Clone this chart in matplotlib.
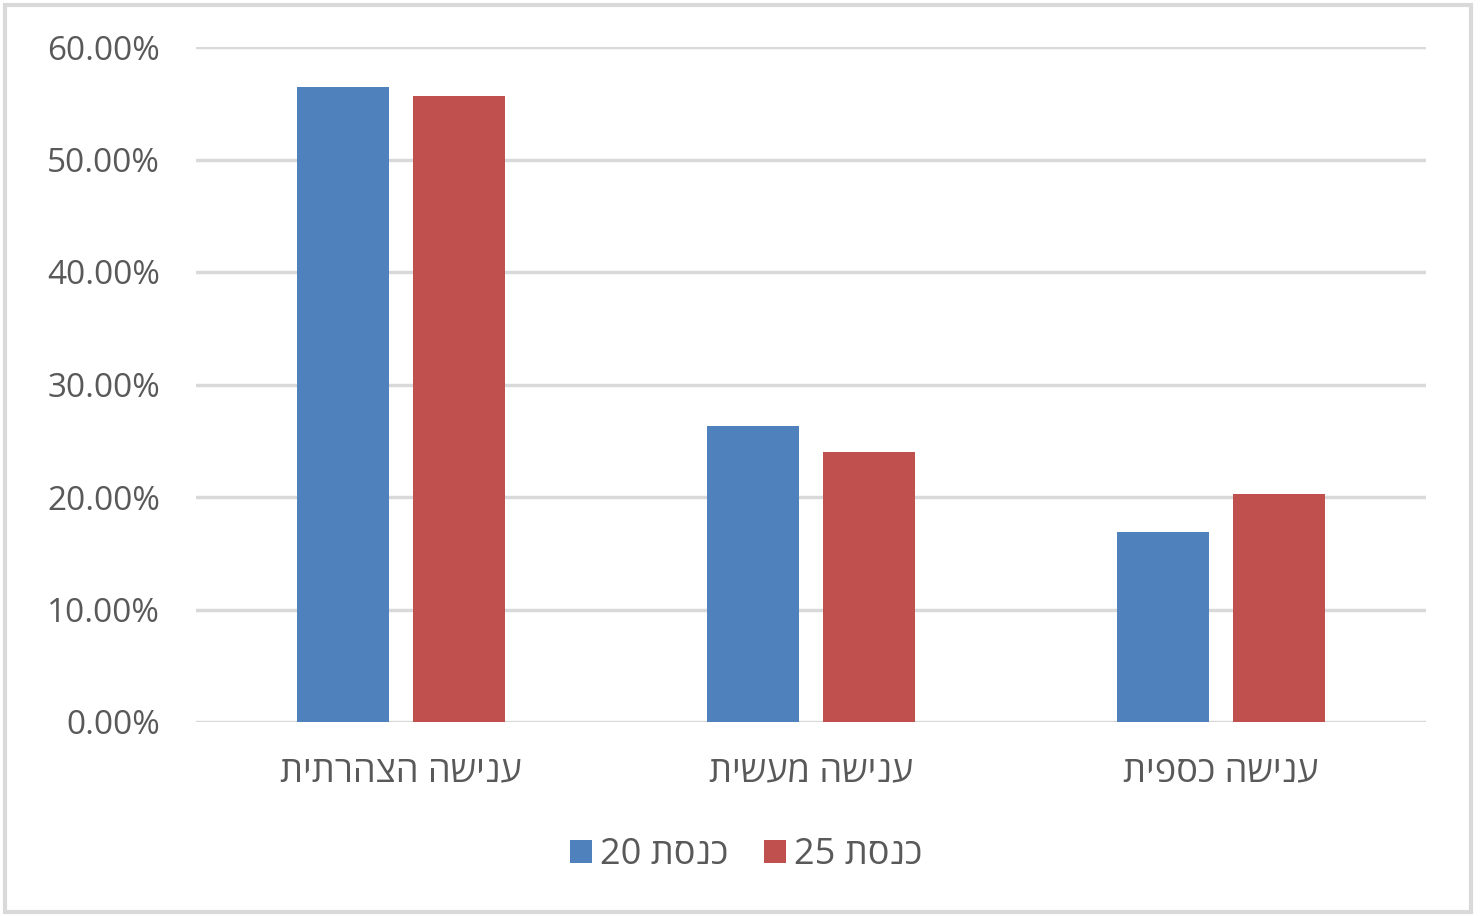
import numpy as np
import matplotlib.pyplot as plt
from matplotlib.patches import Rectangle
from matplotlib.ticker import FuncFormatter

# Data (logical Hebrew order; reversed for display since matplotlib has no bidi)
categories = ["ענישה הצהרתית", "ענישה מעשית", "ענישה כספית"]
series_names = ["כנסת 20", "כנסת 25"]
knesset20 = [56.45, 26.3, 16.9]
knesset25 = [55.65, 24.0, 20.3]
y_ticks = [0, 10, 20, 30, 40, 50, 60]

colors = ["#4f81bd", "#c0504d"]
text_color = "#595959"
grid_color = "#d9d9d9"


def rtl(s):
    # reverse word order and the letters of Hebrew words
    words = s.split(" ")[::-1]
    out = []
    for w in words:
        if any("\u0590" <= ch <= "\u05ff" for ch in w):
            w = w[::-1]
        out.append(w)
    return " ".join(out)


plt.rcParams["font.family"] = ["Open Sans", "DejaVu Sans"]

fig = plt.figure(figsize=(14.8, 9.16), dpi=100)
ax = fig.add_axes([196 / 1480, 1 - 722 / 916, (1426 - 196) / 1480, (722 - 47) / 916])

x = np.arange(len(categories))
w = 0.224
off = 0.1415
ax.bar(x - off, knesset20, w, color=colors[0], label=rtl(series_names[0]), zorder=3)
ax.bar(x + off, knesset25, w, color=colors[1], label=rtl(series_names[1]), zorder=3)

ax.set_xlim(-0.5, len(categories) - 0.5)
ax.set_ylim(0, 60)
ax.set_yticks(y_ticks)
ax.yaxis.set_major_formatter(FuncFormatter(lambda v, p: f"{v:.2f}%"))
ax.set_xticks(x)
ax.set_xticklabels([rtl(c) for c in categories])

ax.grid(axis="y", color=grid_color, linewidth=2.5, zorder=0)
ax.tick_params(axis="both", length=0, colors=text_color)
ax.tick_params(axis="y", pad=26, labelsize=24)
ax.tick_params(axis="x", pad=23, labelsize=26)
for s in ax.spines.values():
    s.set_visible(False)

leg = fig.legend(loc="center", bbox_to_anchor=(746 / 1480, 1 - 855 / 916), ncol=2,
                 frameon=False, fontsize=26, handlelength=0.6, handleheight=0.6,
                 handletextpad=0.22, columnspacing=1.0, labelcolor=text_color)

fig.patches.append(Rectangle((5 / 1480, 4 / 916), 1466 / 1480, 907 / 916,
                             transform=fig.transFigure, fill=False,
                             edgecolor=grid_color, linewidth=3))

fig.savefig("out.png", dpi=100, facecolor="white")
